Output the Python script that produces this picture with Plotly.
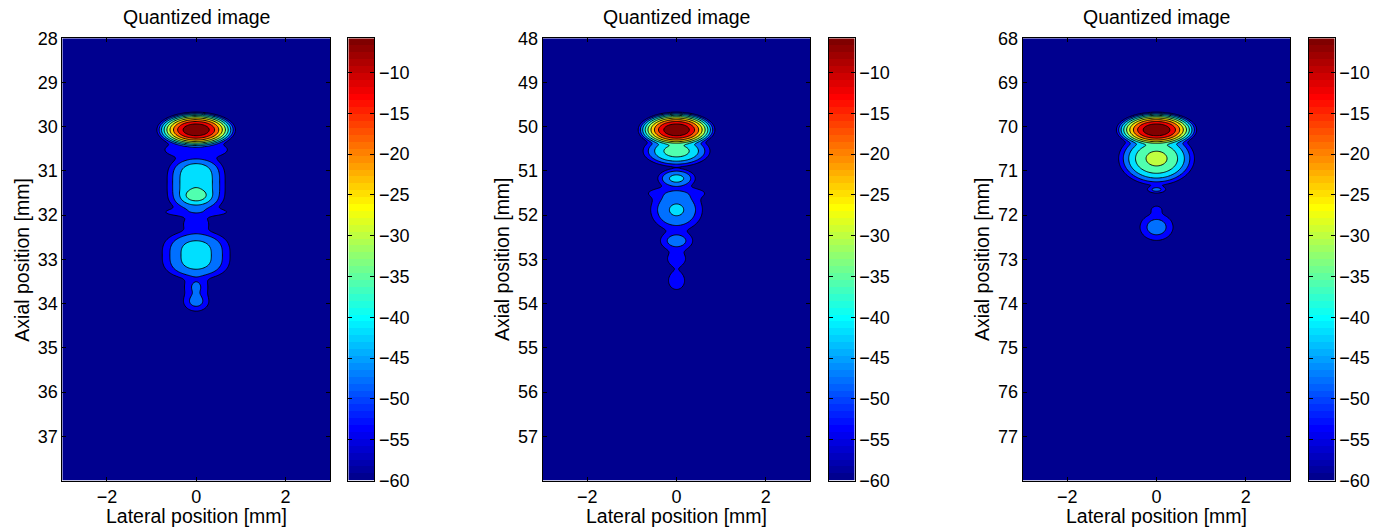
import numpy as np
import plotly.graph_objects as go

# ---- data -------------------------------------------------------------
panel_titles = ["Quantized image", "Quantized image", "Quantized image"]
depth_start = [28, 48, 68]          # top of each axial window [mm]
depth_ticks = [list(range(d, d + 10)) for d in depth_start]
lateral_ticks = [-2, 0, 2]
colorbar_ticks = [-60, -55, -50, -45, -40, -35, -30, -25, -20, -15, -10]
db_floor = -60.0
db_ceiling = -5.8
contour_levels = [-54, -48, -42, -36, -30, -24, -18, -12, -6]

# Lobes of each point-spread image: axial centre [mm], peak level [dB],
# lateral / axial half-width at the -54 dB contour [mm], axial shape exponent
p1_depth = [30.07, 30.52, 31.30, 31.55, 31.93, 32.20, 32.90, 33.62, 33.95]
p1_peak = [0, -50, -36.5, -32, -49, -49, -39, -47, -46]
p1_lat = [0.88, 0.70, 0.65, 0.40, 0.68, 0.28, 0.76, 0.26, 0.28]
p1_ax = [0.40, 0.20, 0.62, 0.22, 0.10, 0.20, 0.55, 0.26, 0.22]
p1_pow = [2, 2, 4, 2, 2, 2, 3, 2, 2]

p2_depth = [50.07, 50.55, 51.17, 51.50, 51.88, 52.58, 52.98, 53.48]
p2_peak = [0, -33, -40, -50, -41, -45, -51, -51]
p2_lat = [0.86, 0.75, 0.42, 0.60, 0.58, 0.36, 0.20, 0.18]
p2_ax = [0.40, 0.35, 0.22, 0.12, 0.48, 0.22, 0.16, 0.20]
p2_pow = [2, 2, 2, 2, 2, 2, 2, 2]

p3_depth = [70.07, 70.72, 71.42, 71.87, 72.27]
p3_peak = [0, -28, -46, -52, -45]
p3_lat = [0.90, 0.85, 0.20, 0.10, 0.37]
p3_ax = [0.40, 0.60, 0.08, 0.07, 0.30]
p3_pow = [2, 2, 2, 2, 2]

panels = [
    (p1_depth, p1_peak, p1_lat, p1_ax, p1_pow),
    (p2_depth, p2_peak, p2_lat, p2_ax, p2_pow),
    (p3_depth, p3_peak, p3_lat, p3_ax, p3_pow),
]


# ---- MATLAB-style jet(64) colormap -----------------------------------
def jet(m=64):
    n = int(np.ceil(m / 4))
    u = np.concatenate([np.arange(1, n + 1) / n, np.ones(n - 1), np.arange(n, 0, -1) / n])
    g = int(np.ceil(n / 2)) - (1 if m % 4 == 1 else 0) + np.arange(1, len(u) + 1)
    r, b = g + n, g - n
    cmap = np.zeros((m, 3))
    for col, idx in ((0, r), (1, g), (2, b)):
        ok = (idx >= 1) & (idx <= m)
        cmap[idx[ok] - 1, col] = u[ok]
    return cmap


JET = jet(64)


def rgb(c):
    return "rgb({},{},{})".format(*[int(round(v * 255)) for v in c])


def level_color(v):
    i = int(np.floor((v - db_floor) / (db_ceiling - db_floor) * 64))
    return rgb(JET[min(max(i, 0), 63)])


# Filled-band colours: background, then one band above each contour level
band_colors = [level_color(db_floor)] + [level_color(l) for l in contour_levels]
nb = len(band_colors) - 1
fill_scale = [[j / nb, c] for j, c in enumerate(band_colors)]

# Stepped colour scale for the 64-entry colour bar
bar_scale = []
for i in range(64):
    bar_scale.append([i / 64, rgb(JET[i])])
    bar_scale.append([(i + 1) / 64, rgb(JET[i])])
bar_vals = np.arange(64)
bar_centres = db_floor + (bar_vals + 0.5) * (db_ceiling - db_floor) / 64

lateral = np.linspace(-3, 3, 241)


def envelope(d0, lobes):
    depth, peak, lat, ax, pw = lobes
    z = d0 + np.linspace(0, 10, 401)
    X, Z = np.meshgrid(lateral, z)
    power = np.zeros_like(X)
    for zc, p, wx, wz, n in zip(depth, peak, lat, ax, pw):
        db = p - (p + 54) * ((X / wx) ** 2 + np.abs((Z - zc) / wz) ** n)
        power += 10 ** (db / 10)
    field = 10 * np.log10(power + 1e-30)
    return z, np.clip(field, db_floor, None)


# ---- layout geometry (figure pixels) ------------------------------------
W, H = 1387, 529
plot_left = [62.3, 542.7, 1022.7]
plot_w = 267.7
bar_gap, bar_w = 18.3, 26.0
top, bottom = 38.3, 480.5

fx = lambda px: px / W
fy = lambda py: 1 - py / H

font = dict(family="Liberation Sans, Arial, Helvetica, sans-serif", color="black")
tick_font = dict(font, size=18)
label_font = dict(font, size=19.5)

fig = go.Figure()
layout = dict(width=W, height=H, margin=dict(l=0, r=0, t=0, b=0, autoexpand=False),
              paper_bgcolor="white", plot_bgcolor="white", showlegend=False,
              annotations=[])

for k, (d0, lobes) in enumerate(zip(depth_start, panels)):
    z, field = envelope(d0, lobes)
    ax_main = 2 * k + 1
    ax_bar = 2 * k + 2
    sx = "" if ax_main == 1 else str(ax_main)

    fig.add_trace(go.Contour(
        x=lateral, y=z, z=field,
        contours=dict(start=contour_levels[0], end=contour_levels[-1],
                      size=contour_levels[1] - contour_levels[0],
                      coloring="fill", showlines=True),
        line=dict(color="black", width=0.9),
        colorscale=fill_scale, showscale=False, hoverinfo="skip",
        xaxis="x" + sx, yaxis="y" + sx))

    fig.add_trace(go.Heatmap(
        x=[0], y=bar_centres, z=bar_vals.reshape(-1, 1),
        colorscale=bar_scale, zmin=0, zmax=64, showscale=False, hoverinfo="skip",
        xaxis="x" + str(ax_bar), yaxis="y" + str(ax_bar)))

    x0 = plot_left[k]
    axis_common = dict(showline=True, linecolor="black", linewidth=1, mirror="ticks",
                       ticks="inside", ticklen=4, tickcolor="black", tickwidth=1,
                       tickfont=tick_font, showgrid=False, zeroline=False,
                       automargin=False)
    layout["xaxis" + sx] = dict(axis_common, domain=[fx(x0), fx(x0 + plot_w)],
                                range=[-3, 3], tickvals=lateral_ticks,
                                anchor="y" + sx)
    layout["yaxis" + sx] = dict(axis_common, domain=[fy(bottom), fy(top)],
                                range=[d0 + 10, d0], tickvals=depth_ticks[k],
                                anchor="x" + sx)

    bx = x0 + plot_w + bar_gap
    layout["xaxis" + str(ax_bar)] = dict(domain=[fx(bx), fx(bx + bar_w)], range=[-0.5, 0.5],
                                        showline=True, linecolor="black", linewidth=1,
                                        mirror=True, ticks="", showticklabels=False,
                                        showgrid=False, zeroline=False, automargin=False,
                                        anchor="y" + str(ax_bar))
    layout["yaxis" + str(ax_bar)] = dict(axis_common, domain=[fy(bottom), fy(top)],
                                        range=[db_floor, db_ceiling], side="right",
                                        tickvals=colorbar_ticks,
                                        anchor="x" + str(ax_bar))

    cx = fx(x0 + plot_w / 2)
    layout["annotations"] += [
        dict(text=panel_titles[k], x=cx, y=fy(17), xref="paper", yref="paper",
             showarrow=False, font=label_font, xanchor="center", yanchor="middle"),
        dict(text="Lateral position [mm]", x=cx, y=fy(516), xref="paper", yref="paper",
             showarrow=False, font=label_font, xanchor="center", yanchor="middle"),
        dict(text="Axial position [mm]", x=fx(x0 - 40), y=fy((top + bottom) / 2),
             xref="paper", yref="paper", textangle=-90, showarrow=False,
             font=label_font, xanchor="center", yanchor="middle"),
    ]

fig.update_layout(**layout)
fig.write_html("out.html")
